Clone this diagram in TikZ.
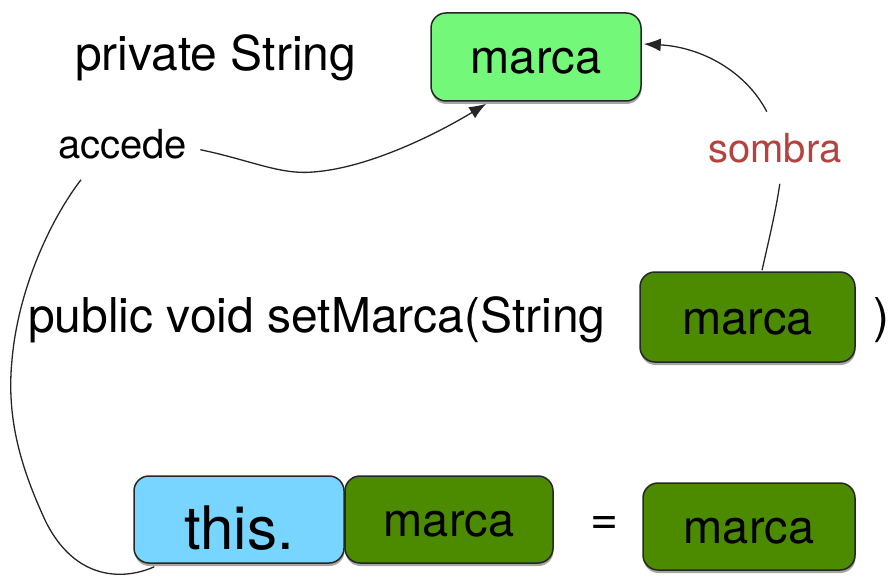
\documentclass[tikz,border=0pt]{standalone}
\usepackage{fontspec}
\setmainfont{TeX Gyre Heros}
\usetikzlibrary{shadows,arrows.meta,calc}
\definecolor{lightgr}{HTML}{74F87A}
\definecolor{darkgr}{HTML}{4C8A00}
\definecolor{skyblue}{HTML}{78D5FF}
\definecolor{shred}{HTML}{B4433F}
\tikzset{
  box/.style={draw=black!85, line width=1.5pt, rounded corners=15pt, inner sep=0pt,
    text height=34pt, text depth=0pt,
    drop shadow={shadow xshift=0.5pt, shadow yshift=-3pt, opacity=0.35, fill=black}},
  big/.style={font=\fontsize{47}{56}\selectfont},
  mid/.style={font=\fontsize{40}{48}\selectfont},
  conn/.style={line width=1.3pt, black!85},
  tip/.style={-{Latex[length=17pt,width=13pt]}}
}
\begin{document}
\begin{tikzpicture}[x=1pt,y=-1pt]
\useasboundingbox (0,0) rectangle (890,577);
% boxes
\node[box, fill=lightgr, minimum width=210pt, minimum height=88pt, big] (top) at (536,57) {marca};
\node[box, fill=darkgr, minimum width=215pt, minimum height=90pt, big] (par) at (747.5,317) {marca};
\node[box, fill=skyblue, minimum width=210pt, minimum height=87pt, text height=60pt, font=\fontsize{60}{68}\selectfont] (this) at (239,519.5) {this.};
\node[box, fill=darkgr, minimum width=208pt, minimum height=87pt, big] (fld) at (449,519.5) {marca};
\node[box, fill=darkgr, minimum width=212pt, minimum height=87pt, big] (rhs) at (749,526.5) {marca};
% texts
\node[anchor=base west, inner sep=0pt, font=\fontsize{48}{56}\selectfont] (priv) at (75,71) {private String};
\node[anchor=base west, inner sep=0pt, font=\fontsize{48}{56}\selectfont] (pub) at (28,332) {public void setMarca(String};
\node[anchor=base west, inner sep=0pt, font=\fontsize{48}{56}\selectfont] (rpar) at (873,332) {)};
\node[inner sep=0pt, font=\fontsize{48}{56}\selectfont] (eq) at (605,525) {=};
\node[anchor=base west, inner sep=0pt, mid] (acc) at (58,159) {accede};
\node[anchor=base west, inner sep=0pt, mid, text=shred] (som) at (708,163) {sombra};
% connector accede
\coordinate (a0) at ($(this.south west)+(21,3)$);
\coordinate (a1) at ($(acc.south west)+(23,20)$);
\coordinate (a2) at ($(acc.east)+(13,5)$);
\coordinate (a3) at ($(top.south west)+(56,2)$);
\draw[conn] (a0) .. controls (125,580) and (75,582) .. (45,520)
  .. controls (22,470) and (6,420) .. (12,360)
  .. controls (18,290) and (50,220) .. (a1);
\draw[conn, tip] (a2) .. controls (250,160) and (280,175) .. (313,172)
  .. controls (370,168) and (440,132) .. (a3);
% connector sombra
\coordinate (s0) at ($(par.north)+(14.5,-1)$);
\coordinate (s1) at ($(som.south)+(5,20)$);
\coordinate (s2) at ($(som.north)+(-8,-22)$);
\coordinate (s3) at ($(top.east)+(2,-13)$);
\draw[conn] (s0) .. controls (770,235) and (776,210) .. (s1);
\draw[conn, tip] (s2) .. controls (745,70) and (700,47) .. (s3);
\end{tikzpicture}
\end{document}
